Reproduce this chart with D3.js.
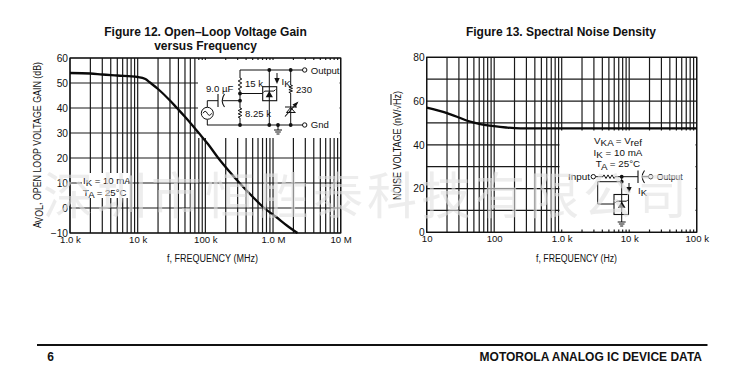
<!DOCTYPE html>
<html><head><meta charset="utf-8">
<script src="https://cdn.jsdelivr.net/npm/d3@7"></script>
<style>
html,body{margin:0;padding:0;background:#fff}
svg{display:block}
text{font-family:"Liberation Sans",Arial,sans-serif;fill:#111}
</style></head><body>
<svg id="c" width="734" height="378"></svg>
<script>
// ---- data ----
const gainFreq = [1e3,2e3,3e3,5e3,1e4,1.3e4,1.5e4,2e4,3e4,3.8e4,5e4,8e4,1.1e5,1.55e5,2.2e5,3.2e5,5e5,7.4e5,1.1e6,1.6e6,2.3e6];
const gainDb   = [54,53.8,53.4,53,52.4,51.6,50.3,47.6,43,40,36.5,30,25.5,20,15,10,4.5,0,-3.5,-7,-10];
const noiseFreq = [10,20,30,40,62,100,150,200,300,1000,1e4,1e5];
const noiseNV   = [57,54.5,52.5,51,49.5,48.5,47.9,47.6,47.5,47.5,47.5,47.5];
const gainYTicks = [60,50,40,30,20,10,0,-10];
const gainXTicks = [1e3,1e4,1e5,1e6,1e7];
const gainXLabels = ["1.0 k","10 k","100 k","1.0 M","10 M"];
const noiseYTicks = [80,60,40,20,0];
const noiseYGrid = [80,70,60,50,40,30,20,10,0];
const noiseXTicks = [10,100,1e3,1e4,1e5];
const noiseXLabels = ["10","100","1.0 k","10 k","100 k"];
const watermark = "深圳市恒胜泰科技有限公司";

const svg = d3.select("#c");
const ink = "#111";

function logGrid(lo,hi){
  const out=[];
  for(let d=lo;d<hi;d*=10) for(let m=1;m<10;m++) out.push(d*m);
  out.push(hi); return out;
}
function rich(g,x,y,parts,anchor,size,extra){
  const t=g.append("text").attr("x",x).attr("y",y).attr("text-anchor",anchor||"start")
    .attr("font-size",size||9.6);
  if(extra) extra(t);
  let shift=0;
  parts.forEach(p=>{
    const sub=Array.isArray(p);
    const ts=t.append("tspan").text(sub?p[0]:p);
    const want=sub?2.2:0;
    if(want!==shift){ts.attr("dy",want-shift);shift=want;}
  });
  return t;
}
function plot(o){
  const g=svg.append("g");
  const x=d3.scaleLog().domain(o.xd).range(o.xr);
  const y=d3.scaleLinear().domain(o.yd).range(o.yr);
  g.append("g").selectAll("line").data(logGrid(o.xd[0],o.xd[1])).join("line")
    .attr("x1",d=>x(d)).attr("x2",d=>x(d)).attr("y1",o.yr[1]).attr("y2",o.yr[0])
    .attr("stroke","#1a1a1a").attr("stroke-width",1.2);
  g.append("g").selectAll("line").data(o.ygrid).join("line")
    .attr("x1",o.xr[0]).attr("x2",o.xr[1]).attr("y1",d=>y(d)).attr("y2",d=>y(d))
    .attr("stroke","#1a1a1a").attr("stroke-width",1.2);
  g.append("rect").attr("x",o.xr[0]).attr("y",o.yr[1]).attr("width",o.xr[1]-o.xr[0]).attr("height",o.yr[0]-o.yr[1])
    .attr("fill","none").attr("stroke",ink).attr("stroke-width",1.2);
  o.boxes.forEach(b=>g.append("rect").attr("x",b[0]).attr("y",b[1]).attr("width",b[2]-b[0]).attr("height",b[3]-b[1]).attr("fill","#fff"));
  g.append("path").datum(o.fs.map((f,i)=>[f,o.vs[i]]))
    .attr("fill","none").attr("stroke","#0a0a0a").attr("stroke-width",2.3)
    .attr("d",d3.line().x(d=>x(d[0])).y(d=>y(d[1])).curve(d3.curveMonotoneX));
  const ax=g.append("g").attr("transform",`translate(0,${o.yr[0]})`)
    .call(d3.axisBottom(x).tickValues(o.xticks).tickSize(0).tickPadding(3).tickFormat((d,i)=>o.xlabels[i]));
  ax.select(".domain").remove();
  ax.selectAll("text").attr("font-size",9.6).attr("font-family",'"Liberation Sans",Arial,sans-serif').attr("fill",ink);
  const ay=g.append("g").attr("transform",`translate(${o.xr[0]},0)`)
    .call(d3.axisLeft(y).tickValues(o.yticks).tickSize(0).tickPadding(2).tickFormat(d=>d<0?"−"+(-d):d));
  ay.select(".domain").remove();
  ay.selectAll("text").attr("font-size",10.2).attr("font-family",'"Liberation Sans",Arial,sans-serif').attr("fill",ink);
  return g;
}
function lines(g,segs,w){
  g.append("path").attr("d",segs).attr("fill","none").attr("stroke",ink).attr("stroke-width",w||1);
}
function dots(g,pts){
  g.selectAll(null).data(pts).enter().append("circle").attr("cx",d=>d[0]).attr("cy",d=>d[1]).attr("r",1.9).attr("fill",ink);
}
function ring(g,cx,cy,r){
  g.append("circle").attr("cx",cx).attr("cy",cy).attr("r",r||2.2).attr("fill","#fff").attr("stroke",ink).attr("stroke-width",1);
}
function zig(cx,y0,y1){
  let p=`M${cx},${y0}`;const n=6,s=(y1-y0)/n;
  for(let i=0;i<n;i++)p+=`L${cx+(i%2?-1.8:1.8)},${y0+s*(i+.5)}`;
  return p+`L${cx},${y1}`;
}
function zigH(y,x0,x1){
  let p=`M${x0},${y}`;const n=6,s=(x1-x0)/n;
  for(let i=0;i<n;i++)p+=`L${x0+s*(i+.5)},${y+(i%2?1.8:-1.8)}`;
  return p+`L${x1},${y}`;
}
function ground(g,cx,y){
  lines(g,`M${cx-4},${y}H${cx+4}M${cx-2.8},${y+2}H${cx+2.8}M${cx-1.5},${y+4}H${cx+1.5}`,1);
}
function tri(g,cx,y,s){
  g.append("path").attr("d",`M${cx-s},${y+s}H${cx+s}L${cx},${y-s+1}Z`).attr("fill",ink);
  lines(g,`M${cx-s-1},${y-s+1}H${cx+s+1}l1.5,-1.5M${cx-s-1},${y-s+1}l-1.5,1.5`,1);
}
function fit(t,len){ return t.attr("textLength",len).attr("lengthAdjust","spacingAndGlyphs"); }

// Figure 12
plot({xd:[1e3,1e7],xr:[70,340.7],yd:[-10,60],yr:[233,58],
  ygrid:gainYTicks,yticks:gainYTicks,xticks:gainXTicks,xlabels:gainXLabels,
  fs:gainFreq,vs:gainDb,boxes:[[198,60,339.5,138],[82,173,128,198]]});
const t1=svg.append("g");
t1.append("text").attr("x",205.5).attr("y",35.7).attr("text-anchor","middle").attr("font-size",12).attr("font-weight",700).text("Figure 12. Open–Loop Voltage Gain");
t1.append("text").attr("x",205.5).attr("y",50).attr("text-anchor","middle").attr("font-size",12).attr("font-weight",700).text("versus Frequency");
fit(t1.append("text").attr("x",212.5).attr("y",262).attr("text-anchor","middle").attr("font-size",10).text("f, FREQUENCY (MHz)"),91);
fit(rich(t1,0,0,["A",["VOL"],", OPEN LOOP VOLTAGE GAIN (dB)"],"middle",10,t=>t.attr("transform","translate(41,145) rotate(-90)")),166);
rich(t1,83,184,["I",["K"]," = 10 mA"],"start",9.6);
rich(t1,83,196,["T",["A"]," = 25°C"],"start",9.6);

// circuit of Figure 12
const c1=svg.append("g");
lines(c1,`M240,70H303M207,125H303M240,70V78`+zig(240,78,90)+`M240,90V108`+zig(240,108,118)+`M240,118V125`);
lines(c1,`M269.3,70V125M240,93.5H262.7M207.3,107V100.7H218M222.5,100.7H240M207.3,119.5V125M278,125V130`);
lines(c1,`M290.7,70V85`+zig(290.7,85,93)+`M290.7,93V125`);
c1.append("rect").attr("x",262.7).attr("y",86.7).attr("width",14).attr("height",14).attr("fill","none").attr("stroke",ink).attr("stroke-width",1.1);
tri(c1,269.3,93.7,3.6);
ground(c1,278,130);
lines(c1,`M218,94V107M224.5,94Q220,100.7 224.5,107`,1.1);
c1.append("circle").attr("cx",207.3).attr("cy",113.3).attr("r",6).attr("fill","#fff").attr("stroke",ink);
lines(c1,`M203,113.3q2.2,-4 4.3,0t4.3,0`);
dots(c1,[[269.3,70],[290.7,70],[240,93.5],[240,100.7],[240,125],[269.3,125],[278,125],[290.7,125]]);
ring(c1,304.7,70);ring(c1,304.7,125);
lines(c1,`M277,73V80`);c1.append("path").attr("d","M274.3,78H279.7L277,84Z").attr("fill",ink);
lines(c1,`M285,107H297M286.5,112.5H295.5`,1.1);
lines(c1,`M285,116.5L297,103`,1.1);c1.append("path").attr("d","M298.5,101.5L292.5,104.5L295.5,107.5Z").attr("fill",ink);
lines(c1,`M286.5,112.5L290.7,107.5L295,112.5`,1);
rich(c1,281.5,85,["I",["K"]],"start",9.6);
[["15 k",245,87],["8.25 k",245,116.7],["230",296,93],["9.0 µF",206,91.7],["Output",310.7,73.5],["Gnd",310.7,128]].forEach(l=>
  c1.append("text").attr("x",l[1]).attr("y",l[2]).attr("font-size",9.6).text(l[0]));

// Figure 13
plot({xd:[10,1e5],xr:[426.7,696.7],yd:[0,80],yr:[232.3,57.3],
  ygrid:noiseYGrid,yticks:noiseYTicks,xticks:noiseXTicks,xlabels:noiseXLabels,
  fs:noiseFreq,vs:noiseNV,boxes:[[559.5,130.5,695.5,229.5]]});
const t2=svg.append("g");
t2.append("text").attr("x",561).attr("y",35.7).attr("text-anchor","middle").attr("font-size",12).attr("font-weight",700).text("Figure 13. Spectral Noise Density");
fit(t2.append("text").attr("x",576.5).attr("y",262).attr("text-anchor","middle").attr("font-size",10).text("f, FREQUENCY (Hz)"),81);
const yl=t2.append("text").attr("transform","translate(400.5,145.5) rotate(-90)").attr("text-anchor","middle").attr("font-size",10);
yl.append("tspan").text("NOISE VOLTAGE (nV/");
yl.append("tspan").text("√").attr("font-size",9);
yl.append("tspan").text("Hz").attr("text-decoration","overline");
yl.append("tspan").text(")");
fit(yl,109);
rich(t2,618,144,["V",["KA"]," = V",["ref"]],"middle",9.8);
rich(t2,618,156,["I",["K"]," = 10 mA"],"middle",9.8);
rich(t2,618,167.4,["T",["A"]," = 25°C"],"middle",9.8);

const c2=svg.append("g");
lines(c2,`M595.5,176.7H603`+zigH(176.7,603,615)+`M615,176.7H638M642.5,176.7H648.5M621.7,176.7V222`);
lines(c2,`M621.7,181.7H597.7V204H614`);
lines(c2,`M638,170.5V183M644.5,170.5Q640,176.7 644.5,183`,1.1);
c2.append("rect").attr("x",614).attr("y",194.5).attr("width",14.5).attr("height",20).attr("fill","none").attr("stroke",ink).attr("stroke-width",1.1);
tri(c2,621.7,204,3.8);
ground(c2,621.7,222);
dots(c2,[[621.7,176.7],[621.7,181.7]]);
ring(c2,593.3,176.7);ring(c2,650.7,176.7);
lines(c2,`M629,183V188`);c2.append("path").attr("d","M626.4,187H631.6L629,193Z").attr("fill",ink);
rich(c2,638,194,["I",["K"]],"start",9.6);
fit(c2.append("text").attr("x",568).attr("y",179.8).attr("font-size",9.6).text("Input"),22);
fit(c2.append("text").attr("x",656.7).attr("y",179.8).attr("font-size",9.6).text("Output"),26);

// footer
svg.append("rect").attr("x",37).attr("y",344).attr("width",670.5).attr("height",2).attr("fill","#111");
svg.append("text").attr("x",50.5).attr("y",361).attr("font-size",12).attr("font-weight",700).attr("text-anchor","middle").text("6");
svg.append("text").attr("x",702).attr("y",361).attr("font-size",12).attr("font-weight",700).attr("text-anchor","end").text("MOTOROLA ANALOG IC DEVICE DATA");

// watermark
svg.append("g").selectAll("text").data(Array.from(watermark)).join("text")
  .attr("x",(d,i)=>68+i*54).attr("y",214).attr("text-anchor","middle")
  .attr("font-size",50).attr("font-weight",400)
  .style("font-family",'"Noto Sans CJK SC"').style("fill","rgba(225,225,225,.6)").text(d=>d);
</script></body></html>
